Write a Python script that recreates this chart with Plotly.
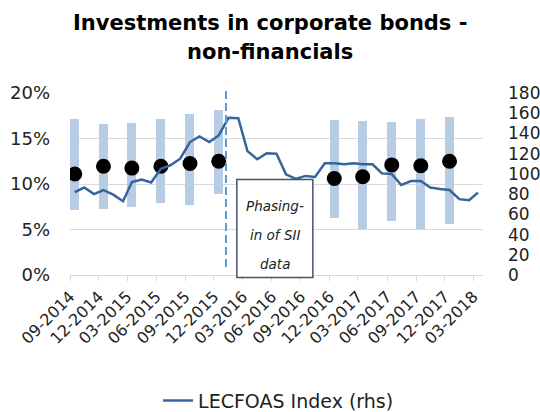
import plotly.graph_objects as go

# ---- data ----
months = [
    "2014-09", "2014-10", "2014-11", "2014-12", "2015-01", "2015-02", "2015-03", "2015-04",
    "2015-05", "2015-06", "2015-07", "2015-08", "2015-09", "2015-10", "2015-11", "2015-12",
    "2016-01", "2016-02", "2016-03", "2016-04", "2016-05", "2016-06", "2016-07", "2016-08",
    "2016-09", "2016-10", "2016-11", "2016-12", "2017-01", "2017-02", "2017-03", "2017-04",
    "2017-05", "2017-06", "2017-07", "2017-08", "2017-09", "2017-10", "2017-11", "2017-12",
    "2018-01", "2018-02", "2018-03",
]
lecfoas_index = [
    82, 86.5, 80, 84, 79.5, 73, 92, 94.5,
    91.5, 105, 108.5, 115, 131.5, 137, 131.5, 138,
    155.5, 155, 122.5, 114.5, 120.5, 120, 99.5, 95,
    98, 97, 110.5, 110.5, 109.5, 110.5, 109.5, 109.5,
    100.5, 100, 89, 93, 93, 86.5, 85, 84,
    75, 74, 81.5,
]

quarters = ["2014-09", "2014-12", "2015-03", "2015-06", "2015-09", "2015-12",
            "2016-12", "2017-03", "2017-06", "2017-09", "2017-12"]
pct_high = [17.1, 16.6, 16.7, 17.1, 17.7, 18.1, 17.05, 16.9, 16.8, 17.15, 17.4]
pct_low = [7.1, 7.2, 7.5, 7.9, 7.65, 8.95, 6.3, 5.05, 5.95, 5.05, 5.6]
pct_median = [11.1, 11.95, 11.75, 11.95, 12.25, 12.5, 10.6, 10.8, 12.1, 12.0, 12.5]

x_range = ["2014-09-01", "2018-04-01"]
phasing_date = "2016-01-08"
box_lines = ["Phasing-", "in of SII", "data"]
title_lines = ["Investments in corporate bonds -", "non-financials"]

FONT = "DejaVu Sans"

def mid(m):
    return m + "-16"

fig = go.Figure()

fig.add_trace(go.Bar(
    x=[mid(q) for q in quarters],
    y=[h - l for h, l in zip(pct_high, pct_low)],
    base=pct_low,
    width=28.5 * 86400000,
    marker=dict(color="#b8cce4", line=dict(width=0)),
    showlegend=False,
    yaxis="y",
    hoverinfo="skip",
))

fig.add_trace(go.Scatter(
    x=[mid(q) for q in quarters],
    y=pct_median,
    mode="markers",
    marker=dict(color="black", size=15),
    showlegend=False,
    yaxis="y",
))

fig.add_trace(go.Scatter(
    x=[mid(m) for m in months],
    y=lecfoas_index,
    mode="lines",
    line=dict(color="#35659c", width=2.5),
    name="LECFOAS Index (rhs)",
    yaxis="y2",
))

fig.update_layout(
    width=540, height=412,
    margin=dict(l=70, r=57, t=93, b=137, autoexpand=False),
    paper_bgcolor="white", plot_bgcolor="white",
    font=dict(family=FONT, size=17, color="#222"),
    xaxis=dict(
        type="date", range=x_range, automargin=False,
        tick0="2014-09-01", dtick="M3", tickformat="%m-%Y",
        tickangle=-45, ticks="outside", ticklen=5, tickcolor="#d9d9d9",
        showline=True, linecolor="#d9d9d9", linewidth=1,
        showgrid=False, zeroline=False,
        tickfont=dict(size=16),
    ),
    yaxis=dict(
        range=[0, 20], dtick=5, ticksuffix="%", automargin=False,
        showgrid=True, gridcolor="#d9d9d9", gridwidth=1,
        zeroline=False, showline=False, ticks="",
        ticklabelstandoff=19, tickfont=dict(size=18),
    ),
    yaxis2=dict(
        range=[0, 180], dtick=20, overlaying="y", side="right", automargin=False,
        showgrid=False, zeroline=False, showline=False, ticks="",
        ticklabelstandoff=24, tickfont=dict(size=17),
    ),
    legend=dict(
        orientation="h", x=0.505, xanchor="center", y=-0.69, yanchor="middle",
        font=dict(size=19), bgcolor="rgba(0,0,0,0)",
    ),
    bargap=0,
    shapes=[
        dict(type="line", xref="x", yref="paper", x0=phasing_date, x1=phasing_date,
             y0=0.044, y1=1.026, line=dict(color="#5b9bd5", width=2, dash="8px,4px")),
        dict(type="rect", xref="paper", yref="paper", x0=0.404, x1=0.588,
             y0=-0.014, y1=0.525, line=dict(color="#44546a", width=1.5), fillcolor="white"),
    ],
)

for txt, yy in zip(title_lines, [1.382, 1.223]):
    fig.add_annotation(xref="paper", yref="paper", x=0.484, y=yy, text="<b>" + txt + "</b>",
                       showarrow=False, font=dict(family=FONT, size=21, color="black"),
                       xanchor="center", yanchor="middle")

for txt, yy in zip(box_lines, [0.378, 0.219, 0.060]):
    fig.add_annotation(xref="paper", yref="paper", x=0.496, y=yy, text="<i>" + txt + "</i>",
                       showarrow=False, font=dict(family=FONT, size=13.5, color="#222"),
                       xanchor="center", yanchor="middle")

fig.write_html("out.html", config={"displayModeBar": False},
               post_script="document.body.style.margin='0';")
